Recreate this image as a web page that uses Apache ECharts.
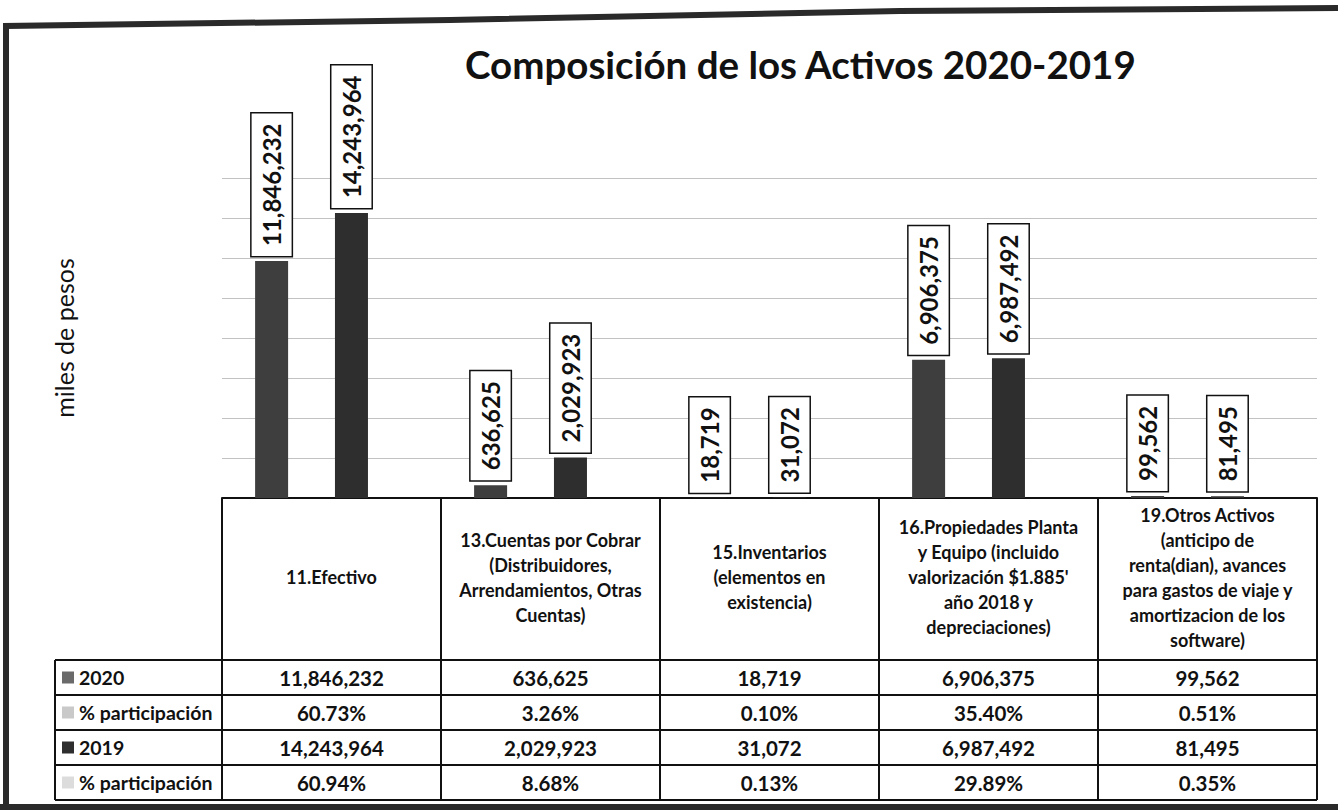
<!DOCTYPE html>
<html>
<head>
<meta charset="utf-8">
<script src="https://cdn.jsdelivr.net/npm/echarts@6/dist/echarts.min.js"></script>
<style>html,body{margin:0;padding:0;background:#fff}#c{width:1338px;height:810px}</style>
</head>
<body>
<div id="c"></div>
<script>
// ---- data ----
const categories = [
  '11.Efectivo',
  '13.Cuentas por Cobrar\n(Distribuidores,\nArrendamientos, Otras\nCuentas)',
  '15.Inventarios\n(elementos en\nexistencia)',
  "16.Propiedades Planta\ny Equipo (incluido\nvalorización $1.885'\naño 2018 y\ndepreciaciones)",
  '19.Otros Activos\n(anticipo de\nrenta(dian), avances\npara gastos de viaje y\namortizacion de los\nsoftware)'
];
const values2020 = [11846232, 636625, 18719, 6906375, 99562];
const pct2020 = [60.73, 3.26, 0.10, 35.40, 0.51];
const values2019 = [14243964, 2029923, 31072, 6987492, 81495];
const pct2019 = [60.94, 8.68, 0.13, 29.89, 0.35];
const rowNames = ['2020', '% participación', '2019', '% participación'];
const yMin = 0, yMax = 16000000, yInterval = 2000000;
const titleText = 'Composición de los Activos 2020-2019';
const yName = 'miles de pesos';

// ---- layout / style ----
const W = 1338, H = 810;
const FONT = 'Lato';
const G = {left: 222, right: 21, top: 178, bottom: 312};
const axisY = H - G.bottom;
const headerH = 162, rowH = 35;
const tableLeft = 55, tableRight = W - G.right;
const colors = ['#3e3e3e', '#c4c4c4', '#2e2e2e', '#dedede'];
const keyColors = ['#6a6a6a', '#c9c9c9', '#2e2e2e', '#dcdcdc'];

const fmtN = v => v.toLocaleString('en-US');
const fmtP = v => v.toFixed(2) + '%';
const rowData = [values2020.map(fmtN), pct2020.map(fmtP), values2019.map(fmtN), pct2019.map(fmtP)];
const seriesData = [values2020, pct2020, values2019, pct2019];

const chart = echarts.init(document.getElementById('c'), null, {renderer: 'svg', width: W, height: H});

const xAxes = [{
  type: 'category', data: categories, gridIndex: 0, position: 'bottom',
  axisLine: {show: true, lineStyle: {color: '#111', width: 2}},
  axisTick: {show: true, length: headerH, lineStyle: {color: '#111', width: 2}},
  axisLabel: {interval: 0, margin: headerH / 2 - 2, verticalAlign: 'middle', align: 'center',
    fontFamily: FONT, fontWeight: 'bold', fontSize: 18, lineHeight: 25, color: '#111'},
  splitLine: {show: false}
}];
rowData.forEach((r, i) => {
  xAxes.push({
    type: 'category', data: r, gridIndex: 0, position: 'bottom', offset: headerH + i * rowH,
    axisLine: {show: false},
    axisTick: {show: true, length: rowH, lineStyle: {color: '#111', width: 2}},
    axisLabel: {interval: 0, margin: rowH / 2, verticalAlign: 'middle', align: 'center',
      fontFamily: FONT, fontWeight: 'bold', fontSize: 20.5, color: '#111'},
    splitLine: {show: false}
  });
});

const graphics = [];
// outer frame (scanned page border)
graphics.push({type: 'polyline', shape: {points: [[6, 810], [6, 26], [450, 20], [900, 11], [1338, 8]]},
  style: {stroke: '#2a2a2a', lineWidth: 6, fill: null}, silent: true});
graphics.push({type: 'line', shape: {x1: 0, y1: 807, x2: W, y2: 807}, style: {stroke: '#2a2a2a', lineWidth: 6}, silent: true});
// table lines for the row area
for (let i = 0; i <= rowNames.length; i++) {
  const y = axisY + headerH + i * rowH;
  graphics.push({type: 'line', shape: {x1: tableLeft, y1: y, x2: tableRight, y2: y},
    style: {stroke: '#111', lineWidth: 2}, silent: true});
}
graphics.push({type: 'line', shape: {x1: tableLeft, y1: axisY + headerH, x2: tableLeft, y2: axisY + headerH + rowNames.length * rowH},
  style: {stroke: '#111', lineWidth: 2}, silent: true});
// row headers with legend keys
rowNames.forEach((n, i) => {
  const cy = axisY + headerH + i * rowH + rowH / 2;
  graphics.push({type: 'rect', shape: {x: 62, y: cy - 6, width: 12, height: 12}, style: {fill: keyColors[i]}, silent: true});
  graphics.push({type: 'text', x: 79, y: cy, style: {text: n, fill: '#111', font: 'bold 19.5px ' + FONT, verticalAlign: 'middle', align: 'left'}, silent: true});
});

chart.setOption({
  animation: false,
  backgroundColor: '#fff',
  title: {text: titleText, left: 460, top: 39,
    textStyle: {fontFamily: FONT, fontWeight: 'bold', fontSize: 38.5, color: '#111'}},
  grid: {left: G.left, right: G.right, top: G.top, bottom: G.bottom, containLabel: false},
  xAxis: xAxes,
  yAxis: {type: 'value', min: yMin, max: yMax, interval: yInterval,
    axisLabel: {show: false}, axisLine: {show: false}, axisTick: {show: false},
    splitLine: {show: true, lineStyle: {color: '#c2c2c2', width: 1}},
    name: yName, nameLocation: 'middle', nameGap: 146, nameRotate: 90,
    nameTextStyle: {fontFamily: FONT, fontSize: 25, color: '#111'}},
  series: rowNames.map((name, i) => ({
    type: 'bar', name: name, xAxisIndex: 0, yAxisIndex: 0, data: seriesData[i],
    barWidth: 33, barGap: '21%', itemStyle: {color: colors[i]}, silent: true,
    label: i % 2 === 0 ? {show: true, position: 'top', rotate: 90, align: 'left', verticalAlign: 'middle', distance: 5,
      formatter: p => fmtN(p.value), fontFamily: FONT, fontWeight: 'bold', fontSize: 24, lineHeight: 24, color: '#111',
      backgroundColor: '#fff', borderColor: '#111', borderWidth: 1.5, padding: [8, 10]} : {show: false}
  })),
  graphic: graphics
});
</script>
</body>
</html>
